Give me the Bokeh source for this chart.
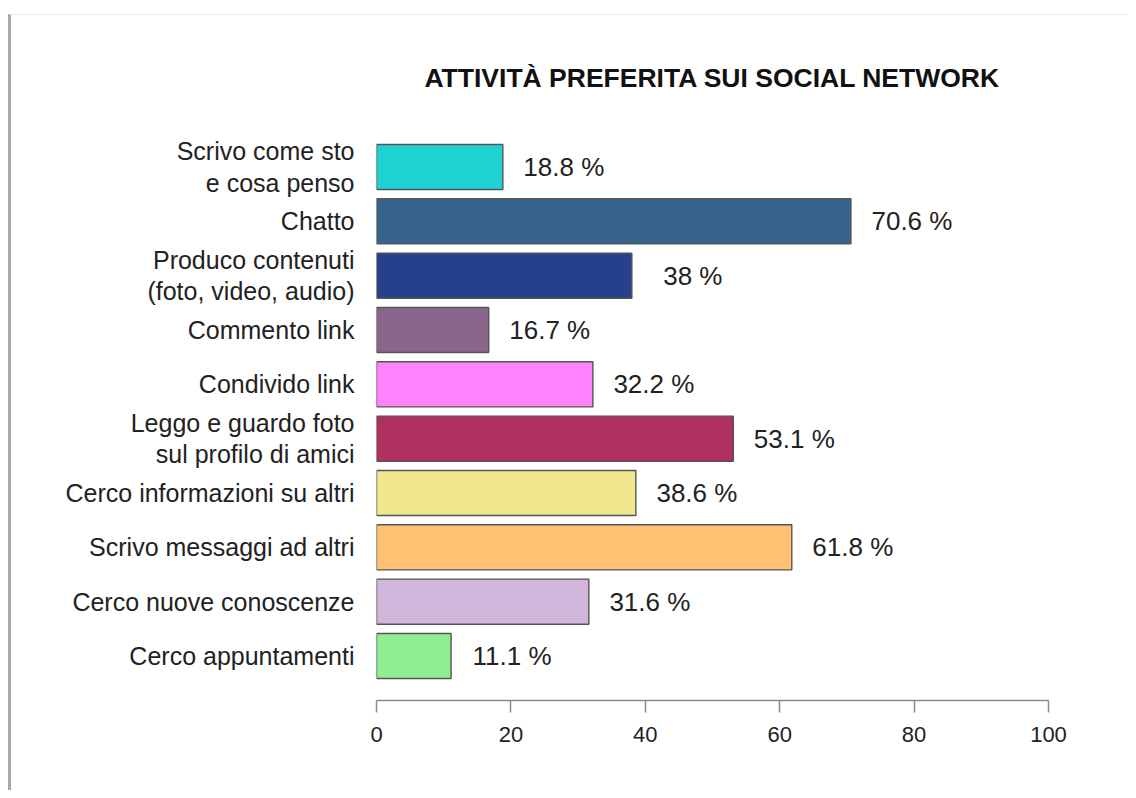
from bokeh.plotting import figure
from bokeh.models import ColumnDataSource, FactorRange
from bokeh.embed import file_html
from bokeh.resources import INLINE

# ---- data (top to bottom as in the chart) ----
activities = [
    "Scrivo come sto\ne cosa penso",
    "Chatto",
    "Produco contenuti\n(foto, video, audio)",
    "Commento link",
    "Condivido link",
    "Leggo e guardo foto\nsul profilo di amici",
    "Cerco informazioni su altri",
    "Scrivo messaggi ad altri",
    "Cerco nuove conoscenze",
    "Cerco appuntamenti",
]
percent = [18.8, 70.6, 38.0, 16.7, 32.2, 53.1, 38.6, 61.8, 31.6, 11.1]
value_labels = ["18.8 %", "70.6 %", "38 %", "16.7 %", "32.2 %",
                "53.1 %", "38.6 %", "61.8 %", "31.6 %", "11.1 %"]
bar_colors = ["#1ED2D3", "#36648B", "#27408B", "#8B668B", "#FF83FA",
              "#B03060", "#F0E68C", "#FFC174", "#D2B5DA", "#90EE90"]
x_ticks = [0, 20, 40, 60, 80, 100]
title_text = "ATTIVITÀ PREFERITA SUI SOCIAL NETWORK"

FONT = "Liberation Sans"

source = ColumnDataSource(dict(
    cat=activities, val=percent, lab=value_labels, color=bar_colors,
))

y_range = FactorRange(factors=list(reversed(activities)),
                      range_padding=0.319, range_padding_units="absolute")

p = figure(
    width=1120, height=776,
    x_range=(0, 100), y_range=y_range,
    output_backend="svg", toolbar_location=None,
    min_border_left=365, min_border_right=83,
    min_border_top=107, min_border_bottom=91,
    title=title_text,
)
p.styles = {"border-left": "3px solid #a8a8a8", "border-top": "1px solid #ededed",
            "margin-top": "14px", "margin-left": "8px"}

p.hbar(y="cat", right="val", left=0, height=0.83, source=source,
       fill_color="color", line_color="#555555", line_width=1.4)

p.text(x="val", y="cat", text="lab", source=source,
       x_offset=61, text_align="center", text_baseline="middle",
       text_font_size="26px", text_color="#222222",
       text_font={"value": FONT})

# title
p.title.align = "center"
p.title.text_font = FONT
p.title.text_font_size = "26.5px"
p.title.text_font_style = "bold"
p.title.text_color = "#111111"
p.title.standoff = 59

# x axis
xa = p.xaxis[0]
xa.ticker = x_ticks
xa.axis_line_color = "#8a8a8a"
xa.axis_line_width = 1.5
xa.major_tick_line_color = "#8a8a8a"
xa.major_tick_line_width = 1.5
xa.major_tick_in = 0
xa.major_tick_out = 12
xa.minor_tick_line_color = None
xa.major_label_standoff = 14
xa.major_label_text_font = FONT
xa.major_label_text_font_size = "22px"
xa.major_label_text_color = "#222222"

# y axis (category labels)
ya = p.yaxis[0]
ya.axis_line_color = None
ya.major_tick_line_color = None
ya.minor_tick_line_color = None
ya.major_label_standoff = 16
ya.major_label_text_font = FONT
ya.major_label_text_font_size = "25px"
ya.major_label_text_line_height = 1.12
ya.major_label_text_color = "#222222"

p.grid.visible = False
p.outline_line_color = None
p.background_fill_color = "white"
p.border_fill_color = "white"

open("out.html", "w").write(file_html(p, INLINE))
